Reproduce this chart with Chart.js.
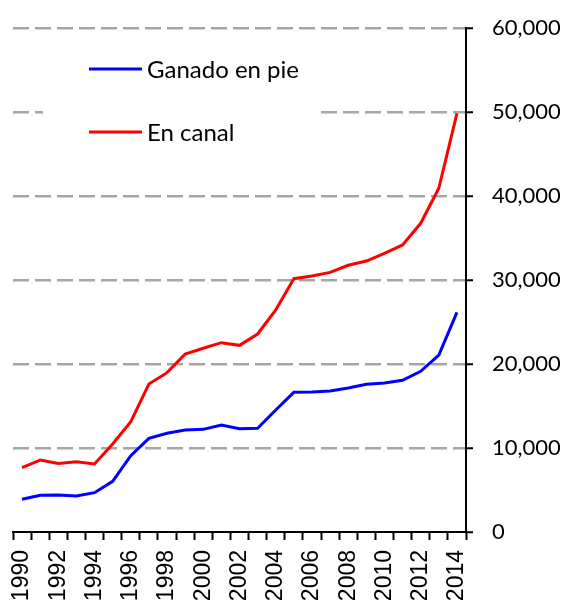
<!DOCTYPE html>
<html>
<head>
<meta charset="utf-8">
<script src="https://cdn.jsdelivr.net/npm/chart.js@4/dist/chart.umd.min.js"></script>
<style>
  html, body { margin: 0; padding: 0; background: #fff; }
  #wrap { width: 567px; height: 602px; position: relative; }
</style>
</head>
<body>
<div id="wrap"><canvas id="chart"></canvas></div>
<script>
const years = ['1990', '1991', '1992', '1993', '1994', '1995', '1996', '1997', '1998', '1999',
  '2000', '2001', '2002', '2003', '2004', '2005', '2006', '2007', '2008', '2009',
  '2010', '2011', '2012', '2013', '2014'];
const ganadoEnPie = [3890, 4370, 4400, 4290, 4680, 6030, 9080, 11150, 11750, 12140,
  12220, 12740, 12300, 12340, 14520, 16630, 16670, 16790, 17140, 17580,
  17740, 18060, 19130, 21070, 26150];
const enCanal = [7660, 8570, 8170, 8370, 8100, 10480, 13130, 17620, 18970, 21190,
  21870, 22540, 22220, 23570, 26430, 30160, 30480, 30910, 31750, 32260,
  33170, 34170, 36750, 40920, 49840];
const yTicks = [0, 10000, 20000, 30000, 40000, 50000, 60000];

// legend drawn inside the plot, on a white patch over the grid lines
const insideLegend = {
  id: 'insideLegend',
  beforeDatasetsDraw(chart) {
    const ctx = chart.ctx;
    const a = chart.chartArea;
    ctx.save();
    ctx.fillStyle = '#fff';
    ctx.fillRect(a.left + 30, a.top + 12, 277, 140);
    ctx.font = '24px Lato';
    ctx.textBaseline = 'middle';
    chart.data.datasets.forEach((ds, i) => {
      const y = a.top + 41 + i * 63;
      ctx.strokeStyle = ds.borderColor;
      ctx.lineWidth = 3;
      ctx.beginPath();
      ctx.moveTo(a.left + 76, y);
      ctx.lineTo(a.left + 129, y);
      ctx.stroke();
      ctx.fillStyle = '#000';
      ctx.fillText(ds.label, a.left + 134, y + 1);
    });
    ctx.restore();
  }
};

new Chart(document.getElementById('chart'), {
  type: 'line',
  data: {
    labels: years,
    datasets: [
      { label: 'Ganado en pie', data: ganadoEnPie, borderColor: '#0000ff', borderWidth: 3, pointRadius: 0, tension: 0 },
      { label: 'En canal', data: enCanal, borderColor: '#ff0000', borderWidth: 3, pointRadius: 0, tension: 0 }
    ]
  },
  options: {
    responsive: true,
    maintainAspectRatio: false,
    animation: false,
    layout: { padding: { left: 13, top: 28, right: 0, bottom: 0 } },
    plugins: {
      legend: { display: false },
      tooltip: { enabled: false }
    },
    scales: {
      x: {
        offset: true,
        grid: { offset: true, drawOnChartArea: false, tickLength: 8, tickColor: '#000', tickWidth: 2 },
        border: { color: '#000', width: 2 },
        ticks: {
          autoSkip: false,
          minRotation: 90,
          maxRotation: 90,
          padding: 10,
          color: '#000',
          font: { family: 'Liberation Sans', size: 23 },
          callback: (v, i) => (i % 2 === 0 ? years[i] : '')
        },
        afterFit: (scale) => { scale.height = 70; }
      },
      y: {
        position: 'right',
        min: 0,
        max: 60000,
        afterBuildTicks: (scale) => { scale.ticks = yTicks.map(v => ({ value: v })); },
        grid: {
          color: (c) => (c.tick && c.tick.value === 0 ? 'rgba(0,0,0,0)' : '#a6a6a6'),
          lineWidth: 2.5,
          tickLength: 7,
          tickColor: '#000',
          tickWidth: 2,
          tickBorderDash: []
        },
        border: { color: '#000', width: 2, dash: [16, 6] },
        ticks: {
          padding: 19,
          color: '#000',
          font: { family: 'Lato', size: 22 },
          callback: (v) => v.toLocaleString('en-US')
        },
        afterFit: (scale) => {
          scale.width = 101;
          // the big tick padding should not push the plot down
          scale.paddingTop = 0;
          scale.paddingBottom = 0;
        }
      }
    }
  },
  plugins: [insideLegend]
});
</script>
</body>
</html>
